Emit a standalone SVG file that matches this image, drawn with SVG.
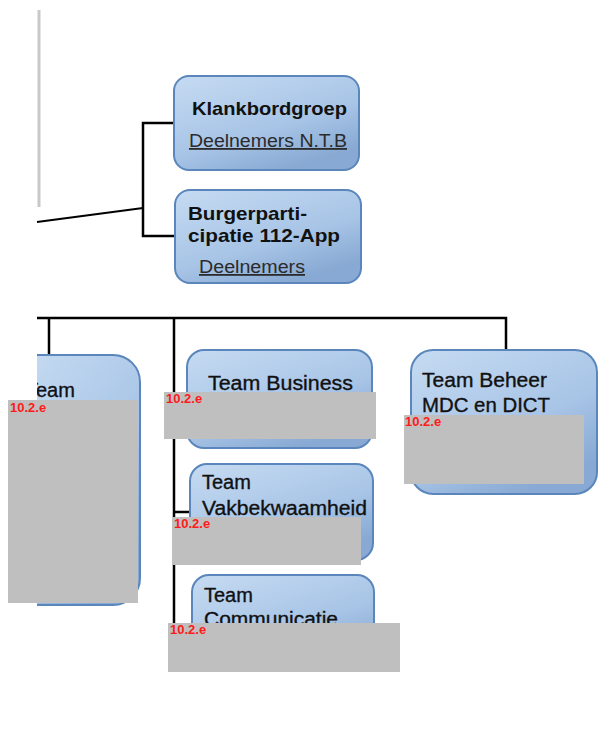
<svg xmlns="http://www.w3.org/2000/svg" width="610" height="751" viewBox="0 0 610 751">
<style>
.box{fill:url(#bg);stroke:#5a86bb;stroke-width:2}
.t{font-family:"Liberation Sans",Arial,sans-serif;fill:#111}
.b{font-weight:bold;font-size:19px}
.r{font-size:20px;stroke:#111;stroke-width:0.35}
.u{font-size:18px;fill:#2b2b2b;text-decoration:underline}
.c{stroke:#000;stroke-width:2.5;fill:none}
.red{fill:#bfbfbf}
.lab{font-family:"Liberation Sans",Arial,sans-serif;font-weight:bold;font-size:13px;fill:#ff1a1a}
</style>
<defs>
<linearGradient id="bg" x1="0" y1="0" x2="0.6" y2="1">
<stop offset="0" stop-color="#c6dbf2"/>
<stop offset="0.65" stop-color="#a7c4e6"/>
<stop offset="1" stop-color="#88a9d3"/>
</linearGradient>
<clipPath id="lc"><rect x="37" y="340" width="120" height="280"/></clipPath>
</defs>
<line x1="39" y1="10" x2="39" y2="207" stroke="#c8c8c8" stroke-width="3"/>
<g id="connectors">
<line x1="37" y1="222" x2="143" y2="208" stroke="#000" stroke-width="2"/>
<path class="c" d="M174,123 H143 V236 H175"/>
<path class="c" d="M37,318 H506 V351"/>
<path class="c" d="M49,318 V356"/>
<path class="c" d="M174,318 V630 H192 M174,512 H190 M174,399 H187"/>
</g>
<g id="klankbordgroep">
<rect class="box" x="174" y="76" width="185" height="94" rx="15"/>
<text class="t b" x="192" y="115" textLength="155" lengthAdjust="spacingAndGlyphs">Klankbordgroep</text>
<text class="t u" x="189" y="147" textLength="158" lengthAdjust="spacingAndGlyphs">Deelnemers N.T.B</text>
</g>
<g id="burgerparticipatie">
<rect class="box" x="175" y="190" width="186" height="93" rx="15"/>
<text class="t b" x="188" y="220" textLength="119" lengthAdjust="spacingAndGlyphs">Burgerparti-</text>
<text class="t b" x="188" y="242" textLength="152" lengthAdjust="spacingAndGlyphs">cipatie 112-App</text>
<text class="t u" x="199" y="273" textLength="106" lengthAdjust="spacingAndGlyphs">Deelnemers</text>
</g>
<g id="team-left" clip-path="url(#lc)">
<path class="box" d="M20,355 H113 A27,27 0 0 1 140,382 V578 A27,27 0 0 1 113,605 H20 Z"/>
<text class="t r" x="26" y="397">Team</text>
</g>
<g id="team-business">
<rect class="box" x="187" y="350" width="185" height="98" rx="17"/>
<text class="t r" x="208" y="390" textLength="145" lengthAdjust="spacingAndGlyphs">Team Business</text>
</g>
<g id="team-vakbekwaamheid">
<rect class="box" x="190" y="464" width="183" height="96" rx="17"/>
<text class="t r" x="202" y="489">Team</text>
<text class="t r" x="202" y="515" textLength="165" lengthAdjust="spacingAndGlyphs">Vakbekwaamheid</text>
</g>
<g id="team-communicatie">
<rect class="box" x="192" y="575" width="182" height="95" rx="17"/>
<text class="t r" x="204" y="602">Team</text>
<text class="t r" x="204" y="626" textLength="134" lengthAdjust="spacingAndGlyphs">Communicatie</text>
</g>
<g id="team-beheer">
<rect class="box" x="411" y="350" width="186" height="144" rx="22"/>
<text class="t r" x="422" y="387" textLength="125" lengthAdjust="spacingAndGlyphs">Team Beheer</text>
<text class="t r" x="422" y="412" textLength="128" lengthAdjust="spacingAndGlyphs">MDC en DICT</text>
</g>
<g id="redactions">
<rect class="red" x="8" y="400" width="130" height="203"/>
<text class="lab" x="10" y="412">10.2.e</text>
<rect class="red" x="164" y="392" width="212" height="47"/>
<text class="lab" x="166" y="403">10.2.e</text>
<rect class="red" x="172" y="517" width="189" height="48"/>
<text class="lab" x="174" y="528">10.2.e</text>
<rect class="red" x="168" y="623" width="232" height="49"/>
<text class="lab" x="170" y="634">10.2.e</text>
<rect class="red" x="404" y="415" width="180" height="69"/>
<text class="lab" x="405" y="426">10.2.e</text>
</g>
</svg>
